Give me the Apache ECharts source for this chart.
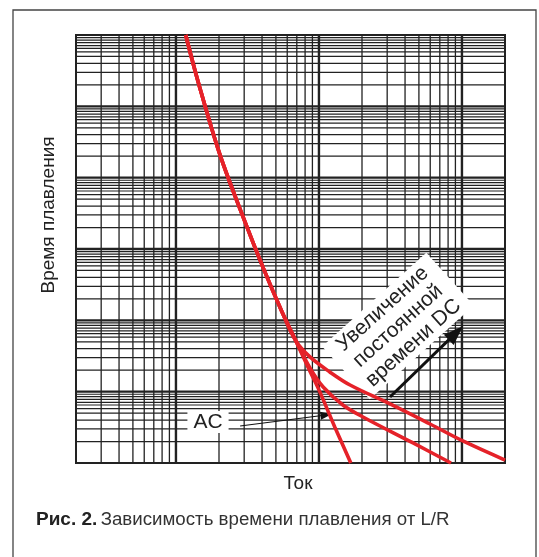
<!DOCTYPE html>
<html>
<head>
<meta charset="utf-8">
<script src="https://cdn.jsdelivr.net/npm/echarts@6/dist/echarts.min.js"></script>
<style>
html,body{margin:0;padding:0;background:#fff;}
#chart{width:539px;height:557px;}
</style>
</head>
<body>
<div id="chart"></div>
<script>
// Axis extents (log-log paper)
const xRange = [2, 2000];
const yRange = [1, 1e6];

// Grid lines of the log paper
const xMajorLines = [10, 100, 1000];
const xMinorMultipliers = [2, 3, 4, 5, 6, 7, 8, 9];
const yMajorLines = [10, 100, 1000, 1e4, 1e5];
const yMinorMultipliers = [2, 3, 4, 5, 5.8, 6.5, 7.1, 7.8, 8.5, 9.2];

// Curves [current, melting time]
const acCurve = [[11.7,1e6],[14.3,2.2e5],[20.3,2.1e4],[30.4,2400],[41.3,509],[55.2,131],[69,51.4],[85,20.8],[100,10.6],[129,3.2],[167,1]];
const dcMidCurve = [[11.7,1e6],[14.3,2.2e5],[20.3,2.1e4],[30.4,2400],[41.3,509],[55.2,131],[69,51.4],[86.5,21.5],[107,11.6],[147,6.51],[203,4.42],[455,1.91],[838,1]];
const dcHighCurve = [[11.7,1e6],[14.3,2.2e5],[20.3,2.1e4],[30.4,2400],[41.3,509],[55.2,131],[69,51.4],[86.5,30.7],[119,18.9],[165,12.4],[314,6.72],[598,3.52],[1050,1.97],[2000,1.1]];

// Annotation arrows [from, to]
const acArrow = [[28.1, 3.30], [112, 4.71]];
const dcArrow = [[314, 8.43], [908, 66.6]];

// Texts
const yTitle = 'Время плавления';
const xTitle = 'Ток';
const acLabel = 'AC';
const dcLabel = 'Увеличение\nпостоянной\nвремени DC';
const captionBold = 'Рис. 2.';
const captionText = 'Зависимость времени плавления от L/R';

// Build grid line data
const vLines = [];
for (let d = 1; d <= 1000; d *= 10) {
  xMinorMultipliers.forEach(m => {
    const v = m * d;
    if (v > xRange[0] && v < xRange[1] && xMajorLines.indexOf(v) < 0) vLines.push([v, 1, 0]);
  });
}
xMajorLines.forEach(v => vLines.push([v, 1, 1]));
const hLines = [];
for (let d = 1; d < 1e6; d *= 10) {
  yMinorMultipliers.forEach(m => hLines.push([2, m * d, 0]));
}
yMajorLines.forEach(v => hLines.push([2, v, 1]));

const chart = echarts.init(document.getElementById('chart'), null, {renderer: 'canvas'});
const FONT = '"Liberation Sans", Arial, sans-serif';
const RED = '#e52229';

const curveSeries = (data) => ({
  type: 'line', data: data, smooth: 0.35, symbol: 'none', z: 10, clip: true,
  lineStyle: {color: RED, width: 3.6}, animation: false, silent: true
});

const option = {
  backgroundColor: '#fff',
  animation: false,
  grid: {left: 76, top: 35, width: 429, height: 428, show: true, borderColor: '#222', borderWidth: 2, backgroundColor: 'transparent'},
  xAxis: {type: 'log', logBase: 10, min: xRange[0], max: xRange[1],
    axisLine: {show: false}, axisTick: {show: false}, axisLabel: {show: false}, splitLine: {show: false}},
  yAxis: {type: 'log', logBase: 10, min: yRange[0], max: yRange[1],
    axisLine: {show: false}, axisTick: {show: false}, axisLabel: {show: false}, splitLine: {show: false}},
  series: [
    {
      type: 'custom', data: vLines, encode: {x: 0, y: 1}, z: 1, silent: true,
      renderItem: function (params, api) {
        const v = api.value(0);
        const p1 = api.coord([v, yRange[0]]);
        const p2 = api.coord([v, yRange[1]]);
        return {type: 'line', shape: {x1: p1[0], y1: p1[1], x2: p2[0], y2: p2[1]},
          style: {stroke: '#222', lineWidth: api.value(2) ? 2.4 : 1.3}};
      }
    },
    {
      type: 'custom', data: hLines, encode: {x: 0, y: 1}, z: 1, silent: true,
      renderItem: function (params, api) {
        const v = api.value(1);
        const p1 = api.coord([xRange[0], v]);
        const p2 = api.coord([xRange[1], v]);
        return {type: 'line', shape: {x1: p1[0], y1: p1[1], x2: p2[0], y2: p2[1]},
          style: {stroke: '#222', lineWidth: api.value(2) ? 2.4 : 1.2}};
      }
    },
    Object.assign(curveSeries(acCurve), {
      markLine: {silent: true, animation: false, symbol: ['none', 'triangle'], symbolSize: [8, 11],
        label: {show: false}, lineStyle: {color: '#111', width: 1.2, type: 'solid'},
        data: [[{coord: acArrow[0]}, {coord: acArrow[1]}]]}
    }),
    curveSeries(dcMidCurve),
    Object.assign(curveSeries(dcHighCurve), {
      markLine: {silent: true, animation: false, symbol: ['none', 'triangle'], symbolSize: [14, 20],
        label: {show: false}, lineStyle: {color: '#111', width: 3, type: 'solid'},
        data: [[{coord: dcArrow[0]}, {coord: dcArrow[1]}]]}
    })
  ],
  graphic: [
    {type: 'rect', z: 0, silent: true, shape: {x: 13, y: 10, width: 523, height: 600},
      style: {fill: 'none', stroke: '#444', lineWidth: 1.3}},
    {type: 'text', z: 5, silent: true, x: 49, y: 215, rotation: Math.PI / 2,
      style: {text: yTitle, font: '19px ' + FONT, fill: '#222', align: 'center', verticalAlign: 'middle'}},
    {type: 'text', z: 5, silent: true, x: 298, y: 484,
      style: {text: xTitle, font: '19px ' + FONT, fill: '#222', align: 'center', verticalAlign: 'middle'}},
    {type: 'text', z: 5, silent: true, x: 208, y: 422,
      style: {text: acLabel, font: '21px ' + FONT, fill: '#222', align: 'center', verticalAlign: 'middle',
        backgroundColor: '#fff', padding: [1, 6, 0, 6]}},
    {type: 'text', z: 5, silent: true, x: 398, y: 326, rotation: 42 * Math.PI / 180,
      style: {text: dcLabel, font: '21px ' + FONT, fill: '#222', align: 'center', verticalAlign: 'middle',
        lineHeight: 23, backgroundColor: '#fff', padding: [2, 10, 0, 10]}},
    {type: 'text', z: 5, silent: true, x: 36, y: 520,
      style: {text: '{b|' + captionBold + '} {r|' + captionText + '}', verticalAlign: 'middle',
        rich: {b: {font: 'bold 19px ' + FONT, fill: '#222'}, r: {font: '18.7px ' + FONT, fill: '#333'}}}}
  ]
};
chart.setOption(option);
</script>
</body>
</html>
